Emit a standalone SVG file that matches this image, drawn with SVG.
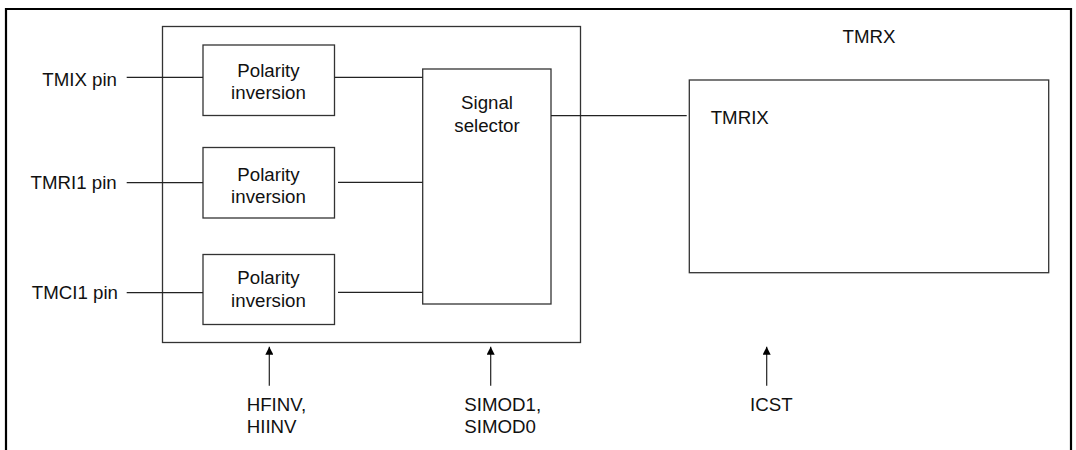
<svg xmlns="http://www.w3.org/2000/svg" width="1076" height="450" viewBox="0 0 1076 450">
<defs>
<style>
.t{font-family:"Liberation Sans",Arial,sans-serif;font-size:18.7px;fill:#111}
.c{text-anchor:middle}
.b{fill:#fff;stroke:#333;stroke-width:1.3}
.w{fill:none;stroke:#222;stroke-width:1.2}
</style>
<marker id="ah" viewBox="0 0 10 10" refX="10" refY="5" markerWidth="10" markerHeight="8" markerUnits="userSpaceOnUse" orient="auto">
<path d="M0,0 L10,5 L0,10 z" fill="#000"/>
</marker>
</defs>
<rect width="1076" height="450" fill="#fff"/>
<g id="frame">
<path d="M6,450 V9 H1071 V450" fill="none" stroke="#000" stroke-width="2.2"/>
<text class="t c" x="869" y="42.7">TMRX</text>
</g>
<g id="module">
<rect class="b" x="162.5" y="26.5" width="418" height="316"/>
</g>
<g id="pol1">
<rect class="b" x="203" y="45" width="131.5" height="70.5"/>
<text class="t c" x="268.5" y="77.3">Polarity</text>
<text class="t c" x="268.5" y="99.3">inversion</text>
</g>
<g id="pol2">
<rect class="b" x="203" y="147.5" width="131.5" height="70.5"/>
<text class="t c" x="268.5" y="180.7">Polarity</text>
<text class="t c" x="268.5" y="202.7">inversion</text>
</g>
<g id="pol3">
<rect class="b" x="203" y="254.5" width="131.5" height="70"/>
<text class="t c" x="268.5" y="284.3">Polarity</text>
<text class="t c" x="268.5" y="306.7">inversion</text>
</g>
<g id="selector">
<rect class="b" x="422.7" y="69" width="128.3" height="235"/>
<text class="t c" x="487" y="109.3">Signal</text>
<text class="t c" x="487" y="131.7">selector</text>
</g>
<g id="tmrix">
<rect class="b" x="689.3" y="80" width="359.4" height="192.7"/>
<text class="t" x="710.7" y="124">TMRIX</text>
</g>
<g id="pins">
<text class="t" x="117" y="86" text-anchor="end">TMIX pin</text>
<text class="t" x="116.7" y="189" text-anchor="end">TMRI1 pin</text>
<text class="t" x="118" y="299.3" text-anchor="end">TMCI1 pin</text>
</g>
<g id="controls">
<text class="t" x="246.7" y="410.7">HFINV,</text>
<text class="t" x="246.7" y="433.3">HIINV</text>
<text class="t" x="464.3" y="410.7">SIMOD1,</text>
<text class="t" x="464.3" y="433.3">SIMOD0</text>
<text class="t" x="750" y="410.7">ICST</text>
</g>
<g id="connectors">
<path class="w" d="M126.7,77.3 H203"/>
<path class="w" d="M126.7,182.7 H203"/>
<path class="w" d="M126.7,292.7 H203"/>
<path class="w" d="M334.5,77.3 H422.7"/>
<path class="w" d="M338,182.3 H422.7"/>
<path class="w" d="M338,292.3 H422.7"/>
<path class="w" d="M551,115.7 H686.7"/>
<path class="w" d="M269.3,385.7 V346.7" marker-end="url(#ah)"/>
<path class="w" d="M490.7,385.7 V346.7" marker-end="url(#ah)"/>
<path class="w" d="M766.7,385.7 V346.7" marker-end="url(#ah)"/>
</g>
</svg>
